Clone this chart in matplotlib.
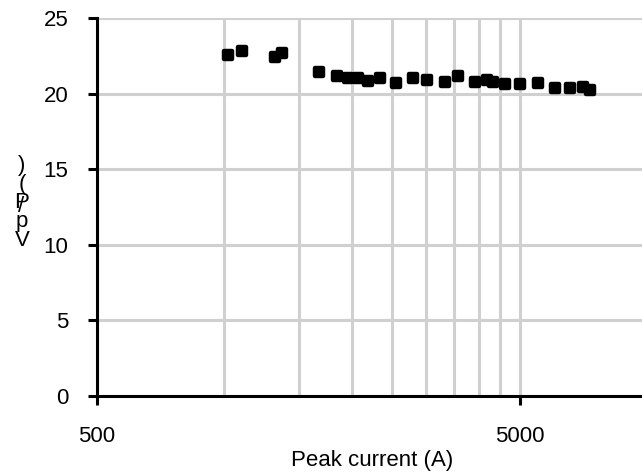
import matplotlib
matplotlib.use("Agg")
from matplotlib import pyplot as plt
from matplotlib.markers import MarkerStyle
from matplotlib.ticker import FixedLocator, NullFormatter

peak_current = [1022, 1103, 1318, 1371, 1674, 1850, 1964, 2074, 2190, 2334,
                2555, 2797, 3009, 3324, 3575, 3914, 4172, 4325, 4607, 5020,
                5526, 6049, 6566, 7058, 7321]
values = [22.55, 22.82, 22.44, 22.70, 21.45, 21.16, 21.01, 21.01, 20.85, 21.01,
          20.68, 21.05, 20.90, 20.79, 21.18, 20.79, 20.90, 20.75, 20.63, 20.63,
          20.68, 20.35, 20.35, 20.42, 20.24]

x_ticks = [500, 5000]
x_grid = [1000, 1500, 2000, 2500, 3000, 3500, 4000, 4500]
y_ticks = [0, 5, 10, 15, 20, 25]

plt.rcParams['font.family'] = ['Liberation Sans', 'DejaVu Sans']
plt.rcParams['font.size'] = 16

fig = plt.figure(figsize=(6.42, 4.74), dpi=100)
ax = fig.add_axes([97 / 642, 78 / 474, 550 / 642, 378 / 474])

# grid lines
ax.set_xscale('log')
ax.set_xlim(500, 10000)
ax.set_ylim(0, 25)
ax.set_xticks(x_ticks)
ax.set_xticklabels([str(t) for t in x_ticks])
ax.xaxis.set_minor_locator(FixedLocator(x_grid))
ax.xaxis.set_minor_formatter(NullFormatter())
ax.set_yticks(y_ticks)
ax.grid(True, which='both', color='#d0d0d0', linewidth=2.2, zorder=0)
ax.set_axisbelow(True)

# the data
ax.plot(peak_current, values, linestyle='none',
        marker=MarkerStyle('s', joinstyle='round'), markersize=6,
        markeredgewidth=3.2, color='black', zorder=3, clip_on=False)

# axes look
for side in ['top', 'right']:
    ax.spines[side].set_visible(False)
for side in ['left', 'bottom']:
    ax.spines[side].set_linewidth(2.2)
ax.tick_params(axis='both', which='major', direction='out', length=6.5,
               width=2.2, labelsize=16)
ax.tick_params(axis='y', which='major', pad=14)
ax.tick_params(axis='x', which='major', pad=15)
ax.tick_params(axis='x', which='minor', length=0)

ax.set_xlabel('Peak current (A)', fontsize=16, labelpad=2)

# stacked y label as in the original (slash drawn over the P)
fig.text(22 / 642, 1 - 203 / 474, ')\n(\nP\np\nV', ha='center', va='center',
         fontsize=16, linespacing=0.85)
fig.text(21 / 642, 1 - 207 / 474, '/', ha='center', va='center',
         fontsize=16)

fig.savefig('out.png', dpi=100)
